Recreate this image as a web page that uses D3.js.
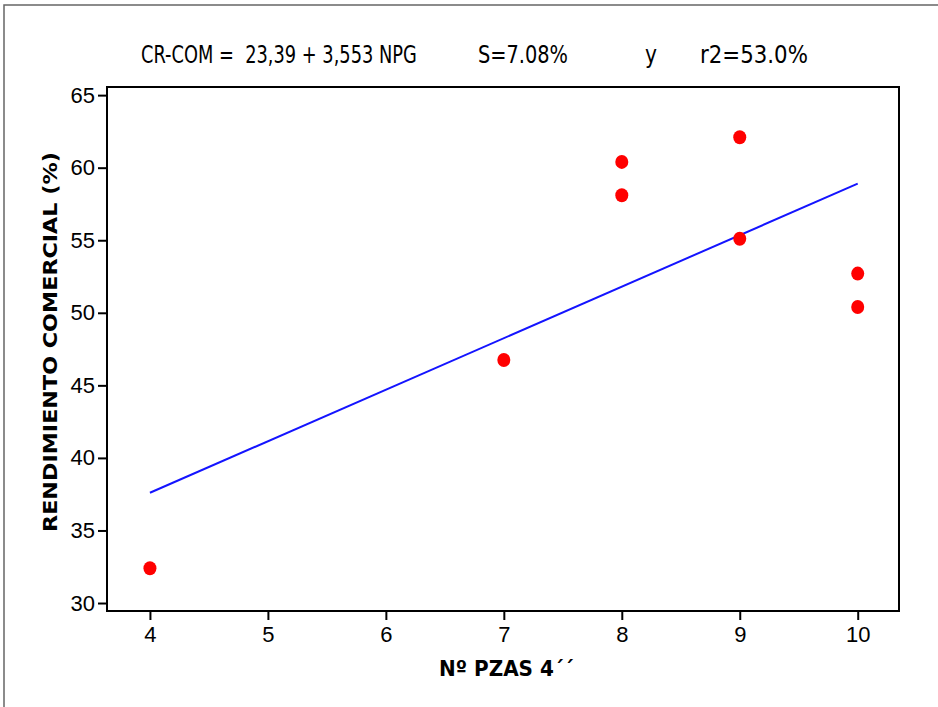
<!DOCTYPE html>
<html>
<head>
<meta charset="utf-8">
<script src="https://cdn.jsdelivr.net/npm/d3@7"></script>
<style>
  body { margin: 0; background: #fff; }
  svg { display: block; }
  .tick text { font-family: "Liberation Sans", Arial, sans-serif; font-size: 22px; fill: #000; }
  .domain, .tick line { stroke: #000; stroke-width: 2px; }
</style>
</head>
<body>
<div id="chart"></div>
<script>
// data
const piezas = [4, 7, 8, 8, 9, 9, 10, 10];
const rendimiento = [32.4, 46.75, 60.4, 58.1, 62.1, 55.1, 52.7, 50.4];
// fitted line CR-COM = 23,39 + 3,553 NPG, end points
const fitX = [4, 10];
const fitY = [37.6, 58.9];
const xTicks = [4, 5, 6, 7, 8, 9, 10];
const yTicks = [30, 35, 40, 45, 50, 55, 60, 65];

const width = 938, height = 707;
const plotLeft = 107, plotRight = 899, plotTop = 87, plotBottom = 611;

const svg = d3.select("#chart")
    .append("svg")
    .attr("width", width)
    .attr("height", height);

// outer frame (top and left only are visible)
svg.append("path")
    .attr("d", `M4,707 L4,5 L938,5`)
    .attr("fill", "none")
    .attr("stroke", "#666")
    .attr("stroke-width", 1.5);

const x = d3.scaleLinear().domain([3.636, 10.35]).range([plotLeft, plotRight]);
const y = d3.scaleLinear().domain([29.45, 65.56]).range([plotBottom, plotTop]);

// plot box
svg.append("rect")
    .attr("x", plotLeft)
    .attr("y", plotTop)
    .attr("width", plotRight - plotLeft)
    .attr("height", plotBottom - plotTop)
    .attr("fill", "none")
    .attr("stroke", "#000")
    .attr("stroke-width", 2);

svg.append("g")
    .attr("transform", `translate(0,${plotBottom})`)
    .call(d3.axisBottom(x).tickValues(xTicks).tickFormat(d3.format("d"))
        .tickSize(9).tickPadding(6).tickSizeOuter(0))
    .call(g => g.select(".domain").remove());

svg.append("g")
    .attr("transform", `translate(${plotLeft},0)`)
    .call(d3.axisLeft(y).tickValues(yTicks).tickSize(9).tickPadding(3).tickSizeOuter(0))
    .call(g => g.select(".domain").remove());

// regression line
const line = d3.line().x(d => x(d[0])).y(d => y(d[1]));
svg.append("path")
    .datum(d3.zip(fitX, fitY))
    .attr("d", line)
    .attr("fill", "none")
    .attr("stroke", "#1414ff")
    .attr("stroke-width", 2);

// points
svg.selectAll(".dot")
    .data(d3.zip(piezas, rendimiento))
    .enter().append("ellipse")
    .attr("class", "dot")
    .attr("cx", d => x(d[0]))
    .attr("cy", d => y(d[1]))
    .attr("rx", 6.5)
    .attr("ry", 7)
    .attr("fill", "#ff0000");

// squeeze a text horizontally to a given width (the original font is condensed)
function squeeze(sel, w, x0, y0, rot) {
    const natural = sel.node().getComputedTextLength();
    const s = w / natural;
    sel.attr("transform", `translate(${x0},${y0})${rot ? " rotate(-90)" : ""} scale(${s},1)`);
}

// title line
const title = [
    { t: "CR-COM =  23,39 + 3,553 NPG", x: 141, w: 276 },
    { t: "S=7.08%", x: 478, w: 90 },
    { t: "y", x: 645, w: 12 },
    { t: "r2=53.0%", x: 700, w: 108 }
];
title.forEach(d => {
    const t = svg.append("text")
        .attr("class", "title")
        .style("font-family", "'DejaVu Sans', sans-serif")
        .style("font-size", "25px")
        .style("white-space", "pre")
        .text(d.t);
    squeeze(t, d.w, d.x, 63, false);
});

// axis titles
const xTitle = svg.append("text")
    .style("font-family", "'DejaVu Sans', sans-serif")
    .style("font-weight", "bold")
    .style("font-size", "22px")
    .text("Nº PZAS 4´´");
squeeze(xTitle, 135, 439, 676, false);

const yTitle = svg.append("text")
    .style("font-family", "'DejaVu Sans', sans-serif")
    .style("font-weight", "bold")
    .style("font-size", "19px")
    .text("RENDIMIENTO COMERCIAL (%)");
squeeze(yTitle, 380, 57, 532, true);
</script>
</body>
</html>
